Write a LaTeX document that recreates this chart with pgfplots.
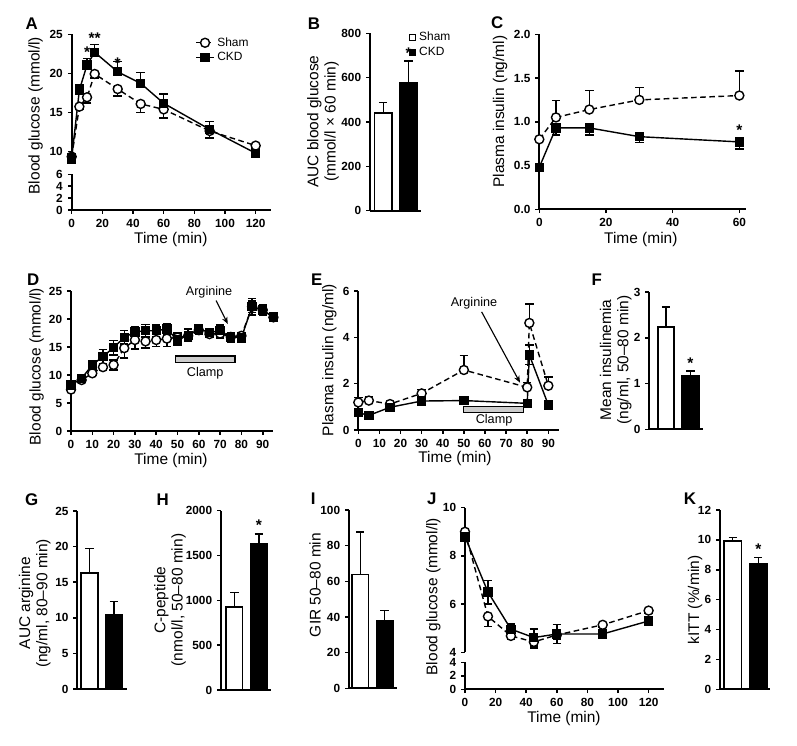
\documentclass[border=0pt]{standalone}
\usepackage{fontspec}
\setmainfont{Liberation Sans}
\usepackage{pgfplots}
\pgfplotsset{compat=1.18}
\usetikzlibrary{arrows.meta}

\newcommand\tl{\fontsize{8.4}{9}\selectfont\bfseries}
\newcommand\lab{\fontsize{11}{12.3}\selectfont}
\newcommand\lettr{\fontsize{12}{13}\selectfont\bfseries}

\tikzset{
  ast/.style={font=\fontsize{11}{12}\selectfont\bfseries},
  note/.style={font=\fontsize{9}{10}\selectfont},
}
\pgfplotsset{
  prism/.style={
    scale only axis, clip=false,
    axis lines=left,
    axis line style={-, line width=1.3pt},
    tick align=outside, major tick length=2.8pt,
    every tick/.style={black, line width=1.1pt},
    tick label style={font=\tl},
    /pgf/number format/assume math mode=true,
    /pgf/number format/1000 sep={},
    error bars/error bar style={solid, line width=1pt, black},
    error bars/error mark options={rotate=90, solid, line width=1pt, mark size=3pt, black},
  },
  bars/.style={prism, xtick=\empty, ymin=0},
  wbar/.style={ybar, bar shift=0pt, bar width=0.68, fill=white, draw=black, line width=1.2pt,
    error bars/.cd, y dir=plus, y explicit},
  kbar/.style={ybar, bar shift=0pt, bar width=0.68, fill=black, draw=black, line width=1.2pt,
    error bars/.cd, y dir=plus, y explicit},
  sham/.style={black, line width=1pt, dash pattern=on 4pt off 2.5pt, mark=*,
    mark size=3.2pt, mark options={solid, fill=white, draw=black, line width=1pt}},
  ckd/.style={black, line width=1pt, solid, mark=square*, mark size=2.8pt,
    mark options={solid, fill=black}},
  lineleg/.style={legend image code/.code={\draw[mark repeat=2, mark phase=2, ##1]
    plot coordinates {(0cm,0cm) (0.22cm,0cm) (0.44cm,0cm)};}},
  boxleg/.style={legend image code/.code={\draw[##1, line width=0.7pt]
    (0cm,-0.75mm) rectangle (1.5mm,0.75mm);}},
}

\begin{document}
\begin{tikzpicture}
\useasboundingbox (0,0) rectangle (199.25mm,186.25mm);

% ---------- A ----------
\begin{axis}[prism, at={(17.925mm,147.75mm)}, anchor=south west,
  width=49.825mm, height=29.925mm,
  xmin=0, xmax=130, ymin=9.7, ymax=25, axis x line=none, xtick=\empty,
  ytick={10,15,20,25},
  legend style={at={(0.62,1.0)}, anchor=north west, draw=none, fill=none,
    font=\fontsize{8.5}{9}\selectfont, row sep=-1pt, inner sep=0pt},
  legend cell align=left]
\addplot[lineleg, sham, error bars/.cd, y dir=minus, y explicit] coordinates {
  (0,9.36) +- (0,0.85) (5,15.75) +- (0,0.3) (10,16.95) +- (0,0.75) (15,19.93) +- (0,0.5)
  (30,18.0) +- (0,0.9) (45,16.1) +- (0,1.1) (60,15.4) +- (0,1.1) (90,12.64) +- (0,0.9)
  (120,10.77) +- (0,0.3)};
\addplot[lineleg, ckd, error bars/.cd, y dir=plus, y explicit] coordinates {
  (0,9.2) +- (0,0.4) (5,17.88) +- (0,0.7) (10,21.08) +- (0,0.85) (15,22.7) +- (0,1.0)
  (30,20.2) +- (0,1.3) (45,18.73) +- (0,1.35) (60,16.18) +- (0,1.2) (90,12.85) +- (0,1.0)
  (120,9.8) +- (0,0.2)};
\legend{Sham, CKD}
\node[ast] at (axis cs:10,22.65) {*};
\node[ast] at (axis cs:15,24.5) {**};
\node[ast] at (axis cs:30,21.3) {*};
\end{axis}
\begin{axis}[prism, at={(17.925mm,133.75mm)}, anchor=south west,
  width=49.825mm, height=8.925mm,
  xmin=0, xmax=130, ymin=0, ymax=6, xtick={0,20,...,120}, ytick={0,2,4,6}]
\end{axis}

% ---------- B ----------
\begin{axis}[bars, at={(92.5mm,133.575mm)}, anchor=south west,
  width=12.7mm, height=44.35mm, xmin=0.48, xmax=2.48, ymax=800,
  ytick={0,200,...,800},
  legend style={at={(0.77,1.025)}, anchor=north west, draw=none, fill=none,
    font=\fontsize{8.5}{9}\selectfont, row sep=-1pt, inner sep=0pt},
  legend cell align=left]
\addplot[boxleg, wbar] coordinates {(1,440) +- (0,49)};
\addplot[boxleg, kbar] coordinates {(2,578) +- (0,97)};
\legend{Sham, CKD}
\node[ast] at (axis cs:2,711) {*};
\end{axis}

% ---------- C ----------
\begin{axis}[prism, at={(134.825mm,133.925mm)}, anchor=south west,
  width=51.675mm, height=43.75mm,
  xmin=0, xmax=62, ymin=0, ymax=2, xtick={0,20,40,60}, ytick={0,0.5,...,2.0},
  yticklabel style={/pgf/number format/.cd, fixed, fixed zerofill, precision=1}]
\addplot[sham, error bars/.cd, y dir=plus, y explicit] coordinates {
  (0,0.8) +- (0,0) (5,1.05) +- (0,0.19) (15,1.14) +- (0,0.22) (30,1.25) +- (0,0.14)
  (60,1.30) +- (0,0.28)};
\addplot[ckd, error bars/.cd, y dir=minus, y explicit] coordinates {
  (0,0.48) +- (0,0.03) (5,0.93) +- (0,0.08) (15,0.93) +- (0,0.08) (30,0.83) +- (0,0.07)
  (60,0.77) +- (0,0.08)};
\node[ast] at (axis cs:60,0.9) {*};
\end{axis}

% ---------- D ----------
\begin{axis}[prism, at={(17.75mm,78.5mm)}, anchor=south west,
  width=50.6mm, height=35mm,
  xmin=0, xmax=95, ymin=0, ymax=25, xtick={0,10,...,90}, ytick={0,5,...,25}]
\addplot[fill=gray!40, draw=black, line width=0.8pt] coordinates {
  (49,12.2) (77,12.2) (77,13.4) (49,13.4)} -- cycle;
\addplot[sham, error bars/.cd, y dir=both, y explicit] coordinates {
  (0,7.4) +- (0,0.4) (5,9.1) +- (0,0.3) (10,10.3) +- (0,0.4) (15,11.4) +- (0,0.6)
  (20,11.8) +- (0,0.9) (25,14.8) +- (0,1.8) (30,16.25) +- (0,1.6) (35,16) +- (0,1.2)
  (40,16.25) +- (0,1.2) (45,16.5) +- (0,1.4) (50,16.7) +- (0,0.8) (55,17) +- (0,0.8)
  (60,18) +- (0,0.8) (65,17.3) +- (0,0.6) (70,17.4) +- (0,0.8) (75,16.8) +- (0,0.6)
  (80,17) +- (0,0.6) (85,22.2) +- (0,1) (90,21.6) +- (0,0.9) (95,20.3) +- (0,0.8)};
\addplot[ckd, error bars/.cd, y dir=both, y explicit] coordinates {
  (0,8.2) +- (0,0.4) (5,9.4) +- (0,0.4) (10,11.8) +- (0,0.8) (15,13.3) +- (0,1.2)
  (20,14.9) +- (0,1.3) (25,16.7) +- (0,1.2) (30,17.7) +- (0,1.0) (35,17.9) +- (0,1.1)
  (40,17.9) +- (0,1.0) (45,18.2) +- (0,0.9) (50,16.25) +- (0,1) (55,17.1) +- (0,1.1)
  (60,18.2) +- (0,0.8) (65,17.6) +- (0,0.7) (70,17.9) +- (0,1.0) (75,16.7) +- (0,0.8)
  (80,16.7) +- (0,0.9) (85,22.2) +- (0,1.5) (90,21.6) +- (0,1) (95,20.3) +- (0,0.8)};
\addplot[-{Stealth[length=5pt,width=4pt]}, line width=0.8pt] coordinates {(68.1,23.3) (73.6,19.1)};
\node[note] at (axis cs:64.8,24.8) {Arginine};
\node[note] at (axis cs:63,10.3) {Clamp};
\end{axis}

% ---------- E ----------
\begin{axis}[prism, at={(89.575mm,78.75mm)}, anchor=south west,
  width=50.15mm, height=34.75mm,
  xmin=0, xmax=95, ymin=0, ymax=6, xtick={0,10,...,90}, ytick={0,2,4,6}]
\addplot[fill=gray!40, draw=black, line width=0.8pt] coordinates {
  (50,0.75) (78.2,0.75) (78.2,1.0) (50,1.0)} -- cycle;
\addplot[sham, error bars/.cd, y dir=plus, y explicit] coordinates {
  (0,1.19) +- (0,0.2) (5,1.27) +- (0,0.18) (15,1.12) +- (0,0.05) (30,1.58) +- (0,0.17)
  (50,2.59) +- (0,0.63) (80,1.84) +- (0,0.2) (81,4.62) +- (0,0.82) (90,1.91) +- (0,0.38)};
\addplot[ckd, error bars/.cd, y dir=both, y explicit] coordinates {
  (0,0.75) +- (0,0.1) (5,0.63) +- (0,0.05) (15,0.98) +- (0,0.08) (30,1.25) +- (0,0.12)
  (50,1.27) +- (0,0.05) (80,1.15) +- (0,0.05) (81,3.24) +- (0,0.42) (90,1.08) +- (0,0.05)};
\addplot[-{Stealth[length=5pt,width=4pt]}, line width=0.8pt] coordinates {(58.4,5.1) (76.6,2.04)};
\node[note] at (axis cs:54.8,5.49) {Arginine};
\node[note] at (axis cs:64.3,0.4) {Clamp};
\end{axis}

% ---------- F ----------
\begin{axis}[bars, at={(162.325mm,78.925mm)}, anchor=south west,
  width=13.35mm, height=34.325mm, xmin=0.318, xmax=2.5, ymax=3, ytick={0,1,2,3}]
\addplot[wbar] coordinates {(1,2.24) +- (0,0.43)};
\addplot[kbar] coordinates {(2,1.17) +- (0,0.1)};
\node[ast] at (axis cs:2,1.44) {*};
\end{axis}

% ---------- G ----------
\begin{axis}[bars, at={(19.325mm,14mm)}, anchor=south west,
  width=12.325mm, height=44.5mm, xmin=0.5, xmax=2.52, ymax=25, ytick={0,5,...,25}]
\addplot[wbar] coordinates {(1,16.3) +- (0,3.4)};
\addplot[kbar] coordinates {(2,10.4) +- (0,1.9)};
\end{axis}

% ---------- H ----------
\begin{axis}[bars, at={(55.25mm,13.75mm)}, anchor=south west,
  width=12.425mm, height=44.825mm, xmin=0.46, xmax=2.48, ymax=2000, ytick={0,500,...,2000}]
\addplot[wbar] coordinates {(1,922) +- (0,163)};
\addplot[kbar] coordinates {(2,1625) +- (0,115)};
\node[ast] at (axis cs:2,1840) {*};
\end{axis}

% ---------- I ----------
\begin{axis}[bars, at={(87.25mm,14.175mm)}, anchor=south west,
  width=11.9mm, height=44.575mm, xmin=0.54, xmax=2.49, ymax=100, ytick={0,20,...,100}]
\addplot[wbar] coordinates {(1,63.9) +- (0,23.8)};
\addplot[kbar] coordinates {(2,37.8) +- (0,5.9)};
\end{axis}

% ---------- J ----------
\begin{axis}[prism, at={(116.25mm,23.175mm)}, anchor=south west,
  width=49.725mm, height=36.15mm,
  xmin=0, xmax=130, ymin=4, ymax=10, axis x line=none, xtick=\empty, ytick={4,6,8,10}]
\addplot[sham, error bars/.cd, y dir=minus, y explicit] coordinates {
  (0,9.0) +- (0,0.1) (15,5.49) +- (0,0.42) (30,4.68) +- (0,0.15) (45,4.43) +- (0,0.26)
  (60,4.72) +- (0,0.2) (90,5.14) +- (0,0.1) (120,5.73) +- (0,0.1)};
\addplot[ckd, error bars/.cd, y dir=both, y explicit] coordinates {
  (0,8.79) +- (0,0.1) (15,6.5) +- (0,0.49) (30,4.96) +- (0,0.22) (45,4.61) +- (0,0.35)
  (60,4.76) +- (0,0.39) (90,4.76) +- (0,0.12) (120,5.3) +- (0,0.1)};
\end{axis}
\begin{axis}[prism, at={(116.25mm,13.925mm)}, anchor=south west,
  width=49.725mm, height=6.75mm,
  xmin=0, xmax=130, ymin=0, ymax=4, xtick={0,20,...,120}, ytick={0,2,4}]
\end{axis}

% ---------- K ----------
\begin{axis}[bars, at={(180mm,13.925mm)}, anchor=south west,
  width=12.5mm, height=44.825mm, xmin=0.5, xmax=2.46, ymax=12, ytick={0,2,...,12}]
\addplot[wbar] coordinates {(1,9.93) +- (0,0.22)};
\addplot[kbar] coordinates {(2,8.41) +- (0,0.42)};
\node[ast] at (axis cs:2,9.37) {*};
\end{axis}

% ---------- axis labels ----------
\node[font=\lab, rotate=90] at (8.925mm,157.325mm) {Blood glucose (mmol/l)};
\node[font=\lab, rotate=90, align=center] at (80.75mm,155.825mm) {AUC blood glucose\\(mmol/l × 60 min)};
\node[font=\lab, rotate=90] at (125mm,158.325mm) {Plasma insulin (ng/ml)};
\node[font=\lab, rotate=90] at (9.175mm,94.575mm) {Blood glucose (mmol/l)};
\node[font=\lab, rotate=90] at (82.325mm,96.25mm) {Plasma insulin (ng/ml)};
\node[font=\lab, rotate=90, align=center] at (153.95mm,96.25mm) {Mean insulinemia\\(ng/ml, 50–80 min)};
\node[font=\lab, rotate=90, align=center] at (8.675mm,35.425mm) {AUC arginine\\(ng/ml, 80–90 min)};
\node[font=\lab, rotate=90, align=center] at (42.5mm,36.25mm) {C-peptide\\(nmol/l, 50–80 min)};
\node[font=\lab, rotate=90] at (78.75mm,40mm) {GIR 50–80 min};
\node[font=\lab, rotate=90] at (108.325mm,37.075mm) {Blood glucose (mmol/l)};
\node[font=\lab, rotate=90] at (173.75mm,36.25mm) {kITT (\%/min)};
\node[font=\lab] at (42.7mm,126.25mm) {Time (min)};
\node[font=\lab] at (160.2mm,126.25mm) {Time (min)};
\node[font=\lab] at (42.75mm,71mm) {Time (min)};
\node[font=\lab] at (113.75mm,71.5mm) {Time (min)};
\node[font=\lab] at (141mm,6.75mm) {Time (min)};

% ---------- panel letters ----------
\node[font=\lettr] at (7.925mm,180.425mm) {A};
\node[font=\lettr] at (78.5mm,180.425mm) {B};
\node[font=\lettr] at (124.325mm,180.575mm) {C};
\node[font=\lettr] at (8.325mm,116.425mm) {D};
\node[font=\lettr] at (79.175mm,116.25mm) {E};
\node[font=\lettr] at (149.175mm,116.25mm) {F};
\node[font=\lettr] at (7.925mm,61.425mm) {G};
\node[font=\lettr] at (40.675mm,61.425mm) {H};
\node[font=\lettr] at (78.325mm,61.675mm) {I};
\node[font=\lettr] at (107.925mm,61.675mm) {J};
\node[font=\lettr] at (172.5mm,61.675mm) {K};
\end{tikzpicture}
\end{document}
